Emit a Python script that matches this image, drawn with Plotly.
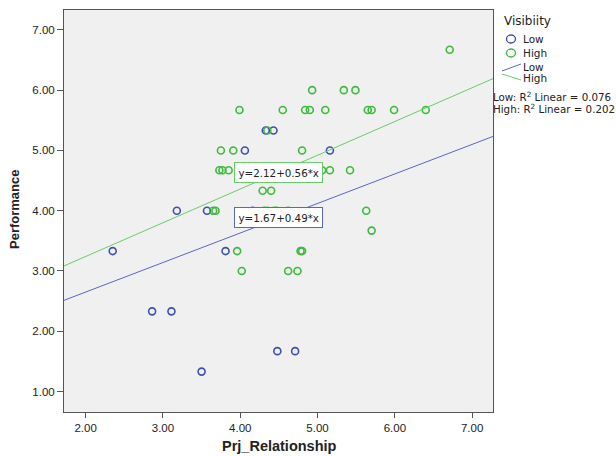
import plotly.graph_objects as go

# ---- data ----
low_x = [2.35, 2.86, 3.11, 3.18, 3.50, 3.57, 3.81, 4.06, 4.16, 4.33, 4.43, 4.48, 4.71, 5.16]
low_y = [3.33, 2.33, 2.33, 4.00, 1.33, 4.00, 3.33, 5.00, 4.00, 5.33, 5.33, 1.67, 1.67, 5.00]

high_x = [6.71,
          4.93, 5.34, 5.49,
          3.99, 4.55, 4.84, 4.90, 5.10, 5.65, 5.70, 5.99, 6.40,
          4.35,
          3.75, 3.91, 4.80,
          3.73, 3.77, 3.85, 5.06, 5.16, 5.42,
          4.29, 4.40,
          3.65, 3.68, 4.31, 4.35, 4.44, 4.47, 4.62, 5.63,
          5.70,
          3.96, 4.78, 4.80,
          4.02, 4.62, 4.74]
high_y = [6.67,
          6.00, 6.00, 6.00,
          5.67, 5.67, 5.67, 5.67, 5.67, 5.67, 5.67, 5.67, 5.67,
          5.33,
          5.00, 5.00, 5.00,
          4.67, 4.67, 4.67, 4.67, 4.67, 4.67,
          4.33, 4.33,
          4.00, 4.00, 4.00, 4.00, 4.00, 4.00, 4.00, 4.00,
          3.67,
          3.33, 3.33, 3.33,
          3.00, 3.00, 3.00]

low_fit = (1.67, 0.49)    # intercept, slope
high_fit = (2.12, 0.56)
low_r2 = 0.076
high_r2 = 0.202

x_range = [1.72, 7.27]
y_range = [0.66, 7.33]
x_ticks = [2, 3, 4, 5, 6, 7]
y_ticks = [1, 2, 3, 4, 5, 6, 7]

BLUE = "#3F4FB5"
GREEN = "#3DBB3D"
BLUE_LINE = "#5A66C4"
GREEN_LINE = "#6ACB6A"
FONT = "Liberation Sans"
WFONT = "DejaVu Sans"

W, H = 616, 456
L, R, T, B = 64, 493, 10, 412


def px(xp):
    return (xp - L) / (R - L)


def py(yp):
    return (B - yp) / (B - T)


fig = go.Figure()

fig.add_trace(go.Scatter(x=low_x, y=low_y, mode="markers", name="Low",
                         marker=dict(symbol="circle-open", size=7, color=BLUE,
                                     line=dict(width=1.6, color=BLUE))))
fig.add_trace(go.Scatter(x=high_x, y=high_y, mode="markers", name="High",
                         marker=dict(symbol="circle-open", size=7, color=GREEN,
                                     line=dict(width=1.6, color=GREEN))))

for (b0, b1), col, nm in [(low_fit, BLUE_LINE, "Low"), (high_fit, GREEN_LINE, "High")]:
    fig.add_trace(go.Scatter(x=x_range, y=[b0 + b1 * x_range[0], b0 + b1 * x_range[1]],
                             mode="lines", name=nm, line=dict(color=col, width=1)))

annotations = []
# equation boxes
for (b0, b1), col, yy in [(high_fit, GREEN_LINE, 4.64), (low_fit, BLUE_LINE, 3.89)]:
    annotations.append(dict(x=4.50, y=yy, xref="x", yref="y", showarrow=False,
                            xanchor="center", yanchor="middle",
                            text=f"y={b0:.2f}+{b1:.2f}*x",
                            font=dict(family=WFONT, size=10.3, color="#222"),
                            bgcolor="white", bordercolor=col, borderwidth=1, borderpad=3.5))

annotations.append(dict(x=px(502), y=py(21), xref="paper", yref="paper", showarrow=False,
                        xanchor="left", yanchor="middle", text="Visibiity",
                        font=dict(family=WFONT, size=12, color="#222")))
for label, yp in [("Low", 39), ("High", 53), ("Low", 67), ("High", 78)]:
    annotations.append(dict(x=px(521), y=py(yp), xref="paper", yref="paper", showarrow=False,
                            xanchor="left", yanchor="middle", text=label,
                            font=dict(family=WFONT, size=10.5, color="#222")))
for txt, yp in [(f"Low: R<sup>2</sup> Linear = {low_r2:.3f}", 97),
                (f"High: R<sup>2</sup> Linear = {high_r2:.3f}", 108)]:
    annotations.append(dict(x=px(491), y=py(yp), xref="paper", yref="paper", showarrow=False,
                            xanchor="left", yanchor="middle", text=txt,
                            font=dict(family=WFONT, size=10.3, color="#222")))

# axis titles
annotations.append(dict(x=px(15), y=py(210), xref="paper", yref="paper", showarrow=False,
                        xanchor="center", yanchor="middle",
                        text="<b>Performance</b>", textangle=-90,
                        font=dict(family=FONT, size=13, color="#222")))
annotations.append(dict(x=px(279), y=py(446), xref="paper", yref="paper", showarrow=False,
                        xanchor="center", yanchor="middle",
                        text="<b>Prj_Relationship</b>",
                        font=dict(family=FONT, size=14.5, color="#222")))

shapes = []
for col, yp in [(BLUE, 39), (GREEN, 53)]:
    shapes.append(dict(type="circle", xref="paper", yref="paper",
                       xsizemode="pixel", ysizemode="pixel",
                       xanchor=px(511), yanchor=py(yp), x0=-4.5, x1=4.5, y0=-4, y1=4,
                       line=dict(color=col, width=1.4)))
shapes.append(dict(type="line", xref="paper", yref="paper",
                   x0=px(502), y0=py(71), x1=px(521), y1=py(64),
                   line=dict(color=BLUE_LINE, width=1)))
shapes.append(dict(type="line", xref="paper", yref="paper",
                   x0=px(502), y0=py(74), x1=px(521), y1=py(80),
                   line=dict(color=GREEN_LINE, width=1)))

fig.update_layout(
    width=W, height=H,
    margin=dict(l=L, r=W - R, t=T, b=H - B),
    paper_bgcolor="white", plot_bgcolor="#F0F0F0",
    showlegend=False,
    font=dict(family=FONT, size=11, color="#222"),
    annotations=annotations, shapes=shapes,
    xaxis=dict(range=x_range, tickvals=x_ticks, tickformat=".2f",
               showgrid=False, zeroline=False, showline=True, mirror=True,
               linecolor="#555", linewidth=1, ticks="outside", ticklen=5,
               tickcolor="#555", tickfont=dict(family=FONT, size=11.5, color="#222")),
    yaxis=dict(range=y_range, tickvals=y_ticks, tickformat=".2f",
               showgrid=False, zeroline=False, showline=True, mirror=True,
               linecolor="#555", linewidth=1, ticks="outside", ticklen=6,
               tickcolor="#555", tickfont=dict(family=FONT, size=11.5, color="#222")),
)

fig.write_html("out.html", config={"displayModeBar": False},
               post_script="document.body.style.margin='0';document.body.style.overflow='hidden';")
